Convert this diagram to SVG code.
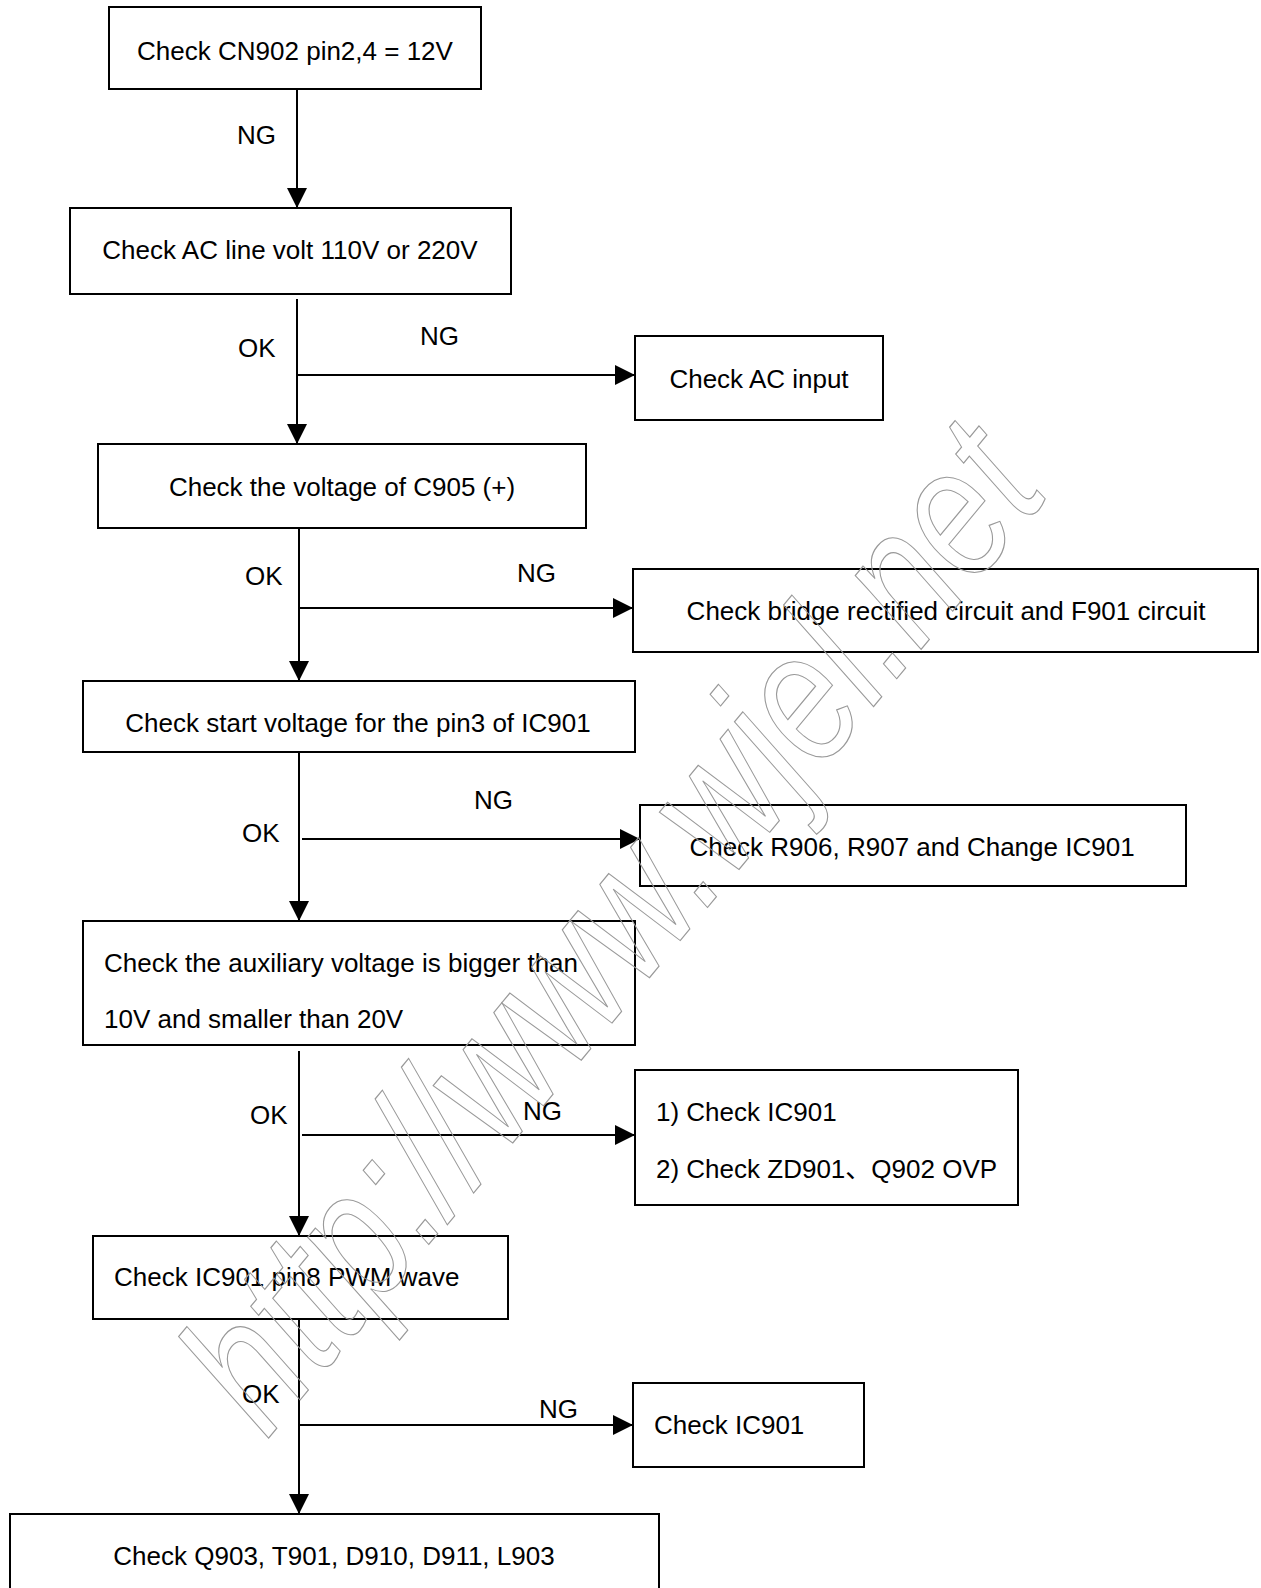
<svg xmlns="http://www.w3.org/2000/svg" width="1261" height="1588" viewBox="0 0 1261 1588">
<defs>
<marker id="arr" markerUnits="userSpaceOnUse" markerWidth="20" markerHeight="20" refX="20" refY="10" orient="auto">
<path d="M0,0 L20,10 L0,20 z" fill="#000"/>
</marker>
<style>
.box{fill:#fff;stroke:#000;stroke-width:2}
.t{font-family:"Liberation Sans",Arial,sans-serif;font-size:26px;fill:#000}
.c{text-anchor:middle}
.ln{stroke:#000;stroke-width:2;fill:none}
.wm{font-family:"Liberation Sans",Arial,sans-serif;font-style:italic;font-size:185px;fill:none;stroke:#999;stroke-width:1.2}
</style>
</defs>
<rect width="1261" height="1588" fill="#fff"/>
<g id="connectors">
<line class="ln" x1="297" y1="89" x2="297" y2="208" marker-end="url(#arr)"/>
<line class="ln" x1="297" y1="299" x2="297" y2="444" marker-end="url(#arr)"/>
<line class="ln" x1="297" y1="375" x2="635" y2="375" marker-end="url(#arr)"/>
<line class="ln" x1="299" y1="528" x2="299" y2="681" marker-end="url(#arr)"/>
<line class="ln" x1="299" y1="608" x2="633" y2="608" marker-end="url(#arr)"/>
<line class="ln" x1="299" y1="752" x2="299" y2="921" marker-end="url(#arr)"/>
<line class="ln" x1="302" y1="839" x2="640" y2="839" marker-end="url(#arr)"/>
<line class="ln" x1="299" y1="1051" x2="299" y2="1236" marker-end="url(#arr)"/>
<line class="ln" x1="302" y1="1135" x2="635" y2="1135" marker-end="url(#arr)"/>
<line class="ln" x1="299" y1="1319" x2="299" y2="1514" marker-end="url(#arr)"/>
<line class="ln" x1="299" y1="1425" x2="633" y2="1425" marker-end="url(#arr)"/>
<text class="t" x="237" y="144">NG</text>
<text class="t" x="238" y="357">OK</text>
<text class="t" x="420" y="345">NG</text>
<text class="t" x="245" y="585">OK</text>
<text class="t" x="517" y="582">NG</text>
<text class="t" x="242" y="842">OK</text>
<text class="t" x="474" y="809">NG</text>
<text class="t" x="250" y="1124">OK</text>
<text class="t" x="523" y="1120">NG</text>
<text class="t" x="242" y="1403">OK</text>
<text class="t" x="539" y="1418">NG</text>
</g>
<g id="n1"><rect class="box" x="109" y="7" width="372" height="82"/><text class="t c" x="295" y="60">Check CN902 pin2,4 = 12V</text></g>
<g id="n2"><rect class="box" x="70" y="208" width="441" height="86"/><text class="t c" x="290" y="259">Check AC line volt 110V or 220V</text></g>
<g id="n3"><rect class="box" x="635" y="336" width="248" height="84"/><text class="t c" x="759" y="388">Check AC input</text></g>
<g id="n4"><rect class="box" x="98" y="444" width="488" height="84"/><text class="t c" x="342" y="496">Check the voltage of C905 (+)</text></g>
<g id="n5"><rect class="box" x="633" y="569" width="625" height="83"/><text class="t c" x="946" y="620">Check bridge rectified circuit and F901 circuit</text></g>
<g id="n6"><rect class="box" x="83" y="681" width="552" height="71"/><text class="t c" x="358" y="732">Check start voltage for the pin3 of IC901</text></g>
<g id="n7"><rect class="box" x="640" y="805" width="546" height="81"/><text class="t c" x="912" y="856">Check R906, R907 and Change IC901</text></g>
<g id="n8"><rect class="box" x="83" y="921" width="552" height="124"/><text class="t" x="104" y="972">Check the auxiliary voltage is bigger than</text><text class="t" x="104" y="1028">10V and smaller than 20V</text></g>
<g id="n9"><rect class="box" x="635" y="1070" width="383" height="135"/><text class="t" x="656" y="1121">1) Check IC901</text><text class="t" x="656" y="1178">2) Check ZD901<tspan font-family="'Noto Sans CJK SC',sans-serif">、</tspan>Q902 OVP</text></g>
<g id="n10"><rect class="box" x="93" y="1236" width="415" height="83"/><text class="t" x="114" y="1286">Check IC901 pin8 PWM wave</text></g>
<g id="n11"><rect class="box" x="633" y="1383" width="231" height="84"/><text class="t" x="654" y="1434">Check IC901</text></g>
<g id="n12"><rect class="box" x="10" y="1514" width="649" height="100"/><text class="t c" x="334" y="1565">Check Q903, T901, D910, D911, L903</text></g>
<g id="watermark"><text class="wm" transform="translate(267,1440) rotate(-50.4)" textLength="1230" lengthAdjust="spacingAndGlyphs">http://www.wjel.net</text></g>
</svg>
